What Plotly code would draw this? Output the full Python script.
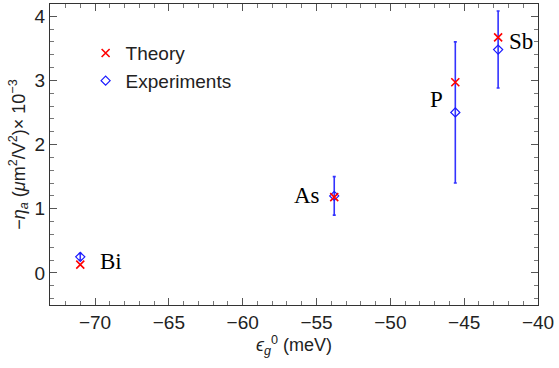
import plotly.graph_objects as go

elements = ["Bi", "As", "P", "Sb"]
eps_g0 = [-71.0, -53.8, -45.6, -42.7]
theory = [0.13, 1.18, 2.97, 3.67]
experiment = [0.25, 1.2, 2.5, 3.48]
exp_err = [0.05, 0.3, 1.1, 0.6]

fig = go.Figure()
fig.add_trace(go.Scatter(
    x=eps_g0, y=experiment, mode="markers", name="Experiments",
    marker=dict(symbol="diamond-open", size=7, color="#1a1aff", line=dict(width=1.2)),
    error_y=dict(type="data", array=exp_err, visible=True, color="#3333ff", thickness=1.6, width=1.5),
))
fig.add_trace(go.Scatter(
    x=eps_g0, y=theory, mode="markers", name="Theory",
    marker=dict(symbol="x-thin", size=8, color="red", line=dict(width=1.6, color="red")),
))

label_pos = [(-69.8, 0.18, "left"), (-54.6, 1.2, "right"), (-46.3, 2.7, "right"), (-42.1, 3.6, "left")]
for name, (lx, ly, anc) in zip(elements, label_pos):
    fig.add_annotation(x=lx, y=ly, text=name, showarrow=False, xanchor=anc,
                       font=dict(family="Liberation Serif", size=23, color="black"))

axis_common = dict(
    showline=True, linecolor="#333", linewidth=1.2, mirror="allticks",
    ticks="inside", ticklen=7, tickwidth=1, tickcolor="#555",
    showgrid=False, zeroline=False,
    tickfont=dict(family="Liberation Sans", size=19, color="#222"),
)

fig.update_xaxes(range=[-73.05, -40], dtick=5, tick0=-70,
                 minor=dict(ticks="inside", dtick=1, ticklen=4, tickcolor="#777"),
                 title=dict(text="<i>ϵ</i><sub><i>g</i></sub><sup>0</sup> (meV)",
                            font=dict(family="Liberation Sans", size=18, color="#222"), standoff=6),
                 **axis_common)
fig.update_yaxes(range=[-0.5, 4.19], dtick=1, tick0=0,
                 minor=dict(ticks="inside", dtick=0.2, ticklen=4, tickcolor="#777"),
                 title=dict(text="−<i>η</i><sub><i>a</i></sub> (<i>μ</i>m<sup>2</sup>/V<sup>2</sup>)× 10<sup>−3</sup>",
                            font=dict(family="Liberation Sans", size=18, color="#222"), standoff=4),
                 **axis_common)

fig.update_layout(
    width=559, height=368,
    margin=dict(l=50, r=21, t=4, b=63),
    plot_bgcolor="white", paper_bgcolor="white",
    showlegend=True,
    legend=dict(x=0.073, y=0.90, xanchor="left", yanchor="top", traceorder="reversed",
                font=dict(family="Liberation Sans", size=19, color="#222"),
                bgcolor="rgba(0,0,0,0)", itemwidth=30, tracegroupgap=2),
)

fig.write_html("out.html")
